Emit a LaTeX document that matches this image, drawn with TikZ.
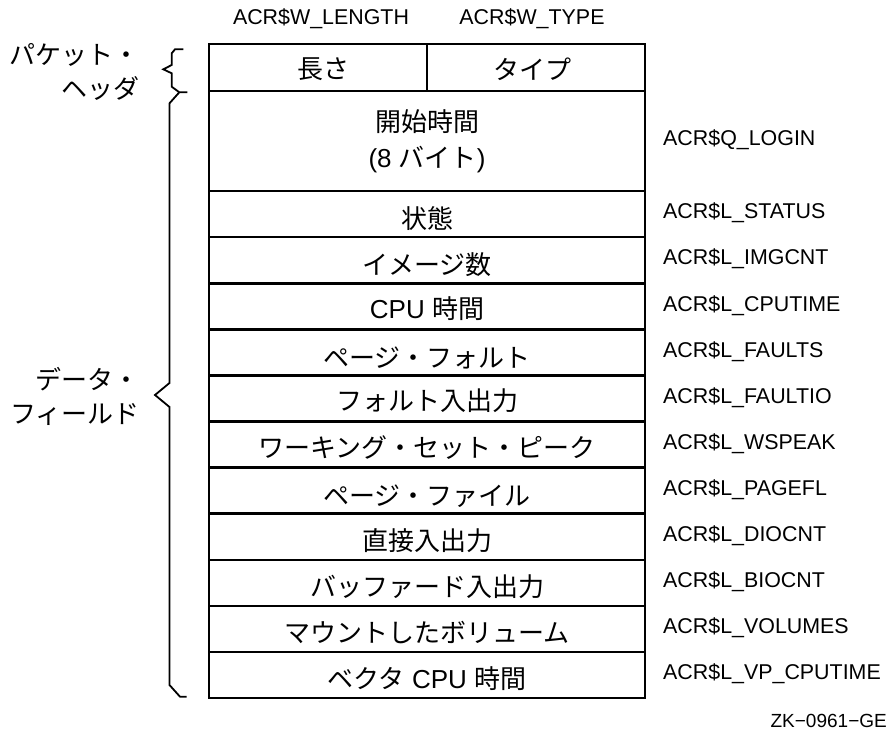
\documentclass[tikz,border=0pt]{standalone}
\usepackage{fontspec}
\setmainfont{Liberation Sans}
\newfontfamily\jpfont{Noto Sans CJK JP}
\newcommand{\J}[1]{{\jpfont\fontsize{26}{30}\selectfont #1}}
\begin{document}
\begin{tikzpicture}[x=1pt,y=-1pt,
  cell/.style={draw, line width=2.6pt, rectangle, inner sep=0pt, minimum width=436pt, minimum height=46.1pt,
    font=\fontsize{26}{36}\selectfont, align=center},
  half/.style={cell, minimum width=218pt, minimum height=47pt},
  celltext/.style={inner sep=0pt, font=\fontsize{26}{36}\selectfont, align=center},
  fld/.style={anchor=west, inner sep=0pt, font=\fontsize{21.4}{24}\selectfont},
  side/.style={anchor=east, inner sep=0pt, align=right, font=\fontsize{20.5}{34}\selectfont},
  bracepath/.style={line width=1.8pt, line join=miter}]
\useasboundingbox (0,0) rectangle (889,733);

% header labels
\node[fld, anchor=center] (wlen) at (321,19) {ACR\$W\_LENGTH};
\node[fld, anchor=center] (wtype) at (532,19) {ACR\$W\_TYPE};

% header row
\node[half] (len) at (318,67.5) {};
\node[half] (typ) at (536,67.5) {};
\node[celltext] (lentxt) at (323,69) {\J{長さ}};
\node[celltext] (typtxt) at (532,69) {\J{タイプ}};

% start time
\node[cell, minimum height=100pt] (start) at (427,141) {};
\node[celltext] (starttxt) at (427,141) {\J{開始時間}\\(8 \J{バイト})};
\node[fld] (qlogin) at (663,140) {ACR\$Q\_LOGIN};

% data rows
\foreach \i/\dy/\txt/\lab in {
  0/4/{\J{状態}}/ACR\$L\_STATUS,
  1/4/{\J{イメージ数}}/ACR\$L\_IMGCNT,
  2/2/{CPU \J{時間}}/ACR\$L\_CPUTIME,
  3/5.5/{\J{ページ・フォルト}}/ACR\$L\_FAULTS,
  4/2/{\J{フォルト入出力}}/ACR\$L\_FAULTIO,
  5/3.5/{\J{ワーキング・セット・ピーク}}/ACR\$L\_WSPEAK,
  6/5.5/{\J{ページ・ファイル}}/ACR\$L\_PAGEFL,
  7/3.5/{\J{直接入出力}}/ACR\$L\_DIOCNT,
  8/3.5/{\J{バッファード入出力}}/ACR\$L\_BIOCNT,
  9/3.5/{\J{マウントしたボリューム}}/ACR\$L\_VOLUMES,
  10/3.5/{\J{ベクタ} CPU \J{時間}}/ACR\$L\_VP\_CPUTIME}{
  \pgfmathsetmacro{\yc}{191+46.1*\i+23.05}
  \node[cell] (row\i) at (427,\yc) {};
  \node[celltext] (txt\i) at (427,\yc+\dy) {\txt};
  \node[fld] (lab\i) at (663,\yc-1) {\lab};
}

% side labels
\node[side] (pkt) at (140,71.5) {\J{パケット・}\\\J{ヘッダ}};
\node[side] (dat) at (140,396.5) {\J{データ・}\\\J{フィールド}};

% braces
\draw[bracepath] (183.3,49.3) -- (175,49.3) -- (171.7,53.3) -- (171.7,65) -- (163.3,69.3)
  -- (171.7,73.3) -- (171.7,86.7) -- (179.3,92.3) -- (187.3,92.3);
\draw[bracepath] (179.3,92.3) -- (169.5,103.3) -- (169.5,383) -- (155,395) -- (169.5,407)
  -- (169.5,685) -- (180,696.7) -- (186.7,696.7);

% figure id
\node[anchor=east, inner sep=0pt, font=\fontsize{19}{22}\selectfont] (zk) at (887,721) {ZK−0961−GE};
\end{tikzpicture}
\end{document}
